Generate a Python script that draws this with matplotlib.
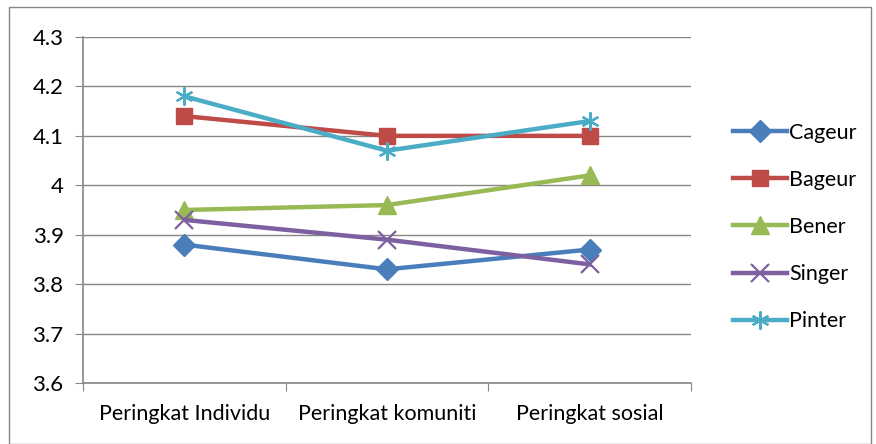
import matplotlib.pyplot as plt
from matplotlib.patches import Rectangle

# data
categories = ['Peringkat Individu', 'Peringkat komuniti', 'Peringkat sosial']
series_names = ['Cageur', 'Bageur', 'Bener', 'Singer', 'Pinter']
cageur = [3.88, 3.83, 3.87]
bageur = [4.14, 4.10, 4.10]
bener = [3.95, 3.96, 4.02]
singer = [3.93, 3.89, 3.84]
pinter = [4.18, 4.07, 4.13]
yticks = [3.6, 3.7, 3.8, 3.9, 4.0, 4.1, 4.2, 4.3]
ytick_labels = ['3.6', '3.7', '3.8', '3.9', '4', '4.1', '4.2', '4.3']

colors = ['#4A7EBB', '#BE4B48', '#98B954', '#7D60A0', '#4BACC6']
markers = ['D', 's', '^', 'x', (6, 2, 0)]
fs = 15.5

plt.rcParams['font.family'] = ['Lato', 'DejaVu Sans']

fig = plt.figure(figsize=(8.76, 4.44), dpi=100)
ax = fig.add_axes([83/876, 1-383/444, (691-83)/876, (383-37)/444])

xs = [i + 0.5 for i in range(len(categories))]
all_series = [cageur, bageur, bener, singer, pinter]
for name, vals, c, m in zip(series_names, all_series, colors, markers):
    if m in ('D', 's'):
        ms, mew = 11, 1
    elif m == '^':
        ms, mew = 13, 1
    else:
        ms, mew = 13, 1.6
    ax.plot(xs, vals, color=c, lw=3.2, marker=m, ms=ms, mew=mew,
            mec=c, mfc=c, label=name)

ax.set_xlim(0, 3)
ax.set_ylim(3.6, 4.3)
ax.set_yticks(yticks)
ax.set_yticklabels(ytick_labels, fontsize=16)
ax.set_xticks([0, 1, 2, 3])
ax.set_xticklabels([])
ax.set_xticks(xs, minor=True)
ax.set_xticklabels(categories, minor=True, fontsize=fs)
ax.tick_params(axis='x', which='minor', length=0, pad=15)
ax.tick_params(axis='x', which='major', length=6, direction='out', color='#868686')
ax.tick_params(axis='y', length=6, direction='out', color='#868686', pad=8)
ax.grid(axis='y', color='#868686', lw=1)
ax.set_axisbelow(True)
for s in ['top', 'right']:
    ax.spines[s].set_visible(False)
for s in ['left', 'bottom']:
    ax.spines[s].set_color('#868686')
    ax.spines[s].set_linewidth(1.2)

ax.legend(loc='center left', bbox_to_anchor=(1.055, 0.451), frameon=False,
          fontsize=fs, handlelength=2.5, labelspacing=1.26, handletextpad=0.1,
          borderaxespad=0)

fig.add_artist(Rectangle((9/876, 0), 1 - 14/876, 1 - 7/444, transform=fig.transFigure,
                         fill=False, edgecolor='#868686', lw=1))

fig.savefig('out.png', dpi=100)
